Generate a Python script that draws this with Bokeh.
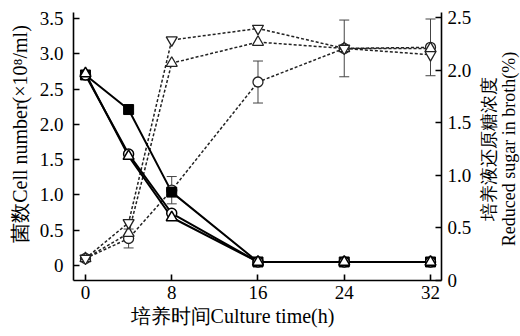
from bokeh.plotting import figure
from bokeh.models import (Range1d, LinearAxis, FixedTicker, Whisker,
                          ColumnDataSource, TeeHead, Div)
from bokeh.layouts import row
from bokeh.embed import file_html
from bokeh.resources import INLINE

# ---- data ----
times = [0, 4, 8, 16, 24, 32]
# cell number (x10^8/ml), left axis, solid lines
cell_square = [2.70, 2.21, 1.04, 0.05, 0.05, 0.05]
cell_circle = [2.70, 1.58, 0.74, 0.05, 0.05, 0.05]
cell_triangle = [2.72, 1.55, 0.68, 0.05, 0.05, 0.05]
# reduced sugar (%), right axis, dashed lines
sugar_down = [0.21, 0.55, 2.29, 2.40, 2.21, 2.15]
sugar_up = [0.21, 0.45, 2.07, 2.27, 2.21, 2.21]
sugar_circle = [0.21, 0.40, 0.86, 1.89, 2.21, 2.22]
sugar_circle_err = [0.0, 0.09, 0.13, 0.20, 0.27, 0.27]

x_ticks = [0, 8, 16, 24, 32]
left_ticks = [0, 0.5, 1.0, 1.5, 2.0, 2.5, 3.0, 3.5]
left_tick_labels = ["0", "0.5", "1.0", "1.5", "2.0", "2.5", "3.0", "3.5"]
right_ticks = [0, 0.5, 1.0, 1.5, 2.0, 2.5]
right_tick_labels = ["0", "0.5", "1.0", "1.5", "2.0", "2.5"]

x_label = "培养时间Culture time(h)"
left_label = "菌数Cell number(×10⁸/ml)"
right_label_cn = "培养液还原糖浓度"
right_label_en = "Reduced sugar in broth(%)"

FONT = "Liberation Serif"
NB = "\u00a0"

p = figure(width=474, height=336, output_backend="svg", toolbar_location=None,
           x_range=Range1d(-1.11, 33.02), y_range=Range1d(-0.2125, 3.585),
           min_border_left=73, min_border_right=33, min_border_top=12,
           min_border_bottom=56)
p.extra_y_ranges = {"sugar": Range1d(0, 2.552)}
p.xgrid.visible = False
p.ygrid.visible = False
p.outline_line_color = None
p.background_fill_color = "white"
p.border_fill_color = "white"

right_axis = LinearAxis(y_range_name="sugar")
p.add_layout(right_axis, "right")

def style_axis(ax, ticks, labels):
    ax.ticker = FixedTicker(ticks=ticks)
    ax.major_label_overrides = {t: l for t, l in zip(ticks, labels)}
    ax.major_tick_in = 6
    ax.major_tick_out = 0
    ax.minor_tick_in = 0
    ax.minor_tick_out = 0
    ax.axis_line_width = 1.6
    ax.axis_line_color = "black"
    ax.major_tick_line_width = 1.6
    ax.major_tick_line_color = "black"
    ax.major_label_text_font = FONT
    ax.major_label_text_font_size = "19px"
    ax.major_label_text_color = "black"
    ax.axis_label_text_font = FONT
    ax.axis_label_text_font_style = "normal"
    ax.axis_label_text_color = "black"

bx = p.xaxis[0]
style_axis(bx, x_ticks, [str(t) for t in x_ticks])
bx.major_label_standoff = 5
bx.axis_label = x_label + NB * 10
bx.axis_label_text_font_size = "20px"
bx.axis_label_standoff = 3

ly = p.yaxis[0]
style_axis(ly, left_ticks, left_tick_labels)
ly.major_label_standoff = 10
ly.axis_label = NB * 5 + left_label
ly.axis_label_text_font_size = "20px"
ly.axis_label_standoff = 6

style_axis(right_axis, right_ticks, right_tick_labels)
right_axis.major_label_standoff = 6

# dashed sugar lines
dash = "3 2"
for ys in (sugar_down, sugar_up, sugar_circle):
    p.line(times, ys, y_range_name="sugar", line_dash=dash, line_width=1.5,
           line_color="#222222")

# error bars on sugar circle series
lower = [v - e for v, e in zip(sugar_circle, sugar_circle_err)]
upper = [v + e for v, e in zip(sugar_circle, sugar_circle_err)]
esrc = ColumnDataSource(dict(x=times, lower=lower, upper=upper))
wh = Whisker(source=esrc, base="x", lower="lower", upper="upper",
             y_range_name="sugar", line_color="#444444", line_width=1,
             upper_head=TeeHead(size=10, line_color="#444444", line_width=1),
             lower_head=TeeHead(size=10, line_color="#444444", line_width=1))
p.add_layout(wh)

# solid cell lines
for ys in (cell_square, cell_circle, cell_triangle):
    p.line(times, ys, line_width=2, line_color="black")

# sugar markers
p.scatter(times, sugar_circle, y_range_name="sugar", marker="circle", size=10,
          fill_color="white", line_color="#222222", line_width=1.3)
p.scatter(times, sugar_up, y_range_name="sugar", marker="triangle", size=11,
          fill_color="white", line_color="#222222", line_width=1.3)
p.scatter(times, sugar_down, y_range_name="sugar", marker="inverted_triangle",
          size=11, fill_color="white", line_color="#222222", line_width=1.3)

# cell markers
p.scatter(times, cell_square, marker="square", size=10, fill_color="black",
          line_color="black")
p.scatter(times, cell_circle, marker="circle", size=10, fill_color="white",
          line_color="black", line_width=1.5)
p.scatter(times, cell_triangle, marker="triangle", size=11, fill_color="white",
          line_color="black", line_width=1.5)

# right-hand axis title, reading bottom-to-top, Chinese line nearer the axis
html = (
    '<div style="position:relative;width:46px;height:336px;">'
    '<div style="position:absolute;left:0;top:0;'
    'transform:translate(-50%,-50%) rotate(-90deg);'
    'white-space:nowrap;text-align:center;font-family:\'Liberation Serif\';'
    'font-size:18px;line-height:20px;color:black;'
    'margin-left:20px;margin-top:144px;">'
    + right_label_cn + '<br>' + right_label_en +
    '</div></div>'
)
div = Div(text=html, width=46, height=336)

layout = row(p, div)
open("out.html", "w").write(file_html(layout, INLINE))
